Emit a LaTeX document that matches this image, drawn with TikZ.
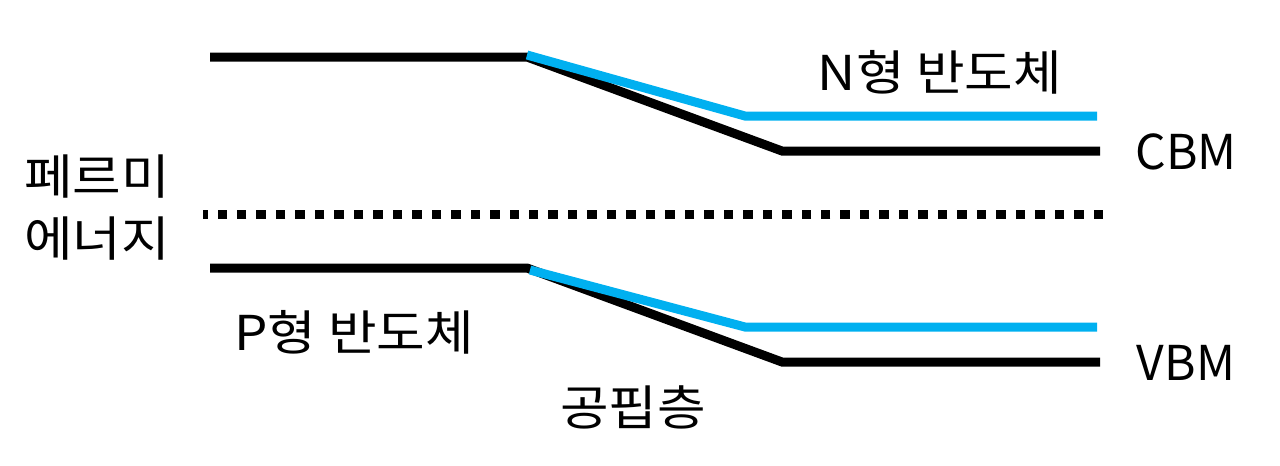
\documentclass[tikz,border=0pt]{standalone}
\usepackage{fontspec}
\setmainfont{Noto Sans CJK KR}
\newfontfamily\korfont[FakeStretch=1.1]{Noto Sans CJK KR}
\definecolor{bandblue}{HTML}{00B0F0}
\begin{document}
\begin{tikzpicture}[x=0.75pt,y=-0.75pt,
  band/.style={line width=6.75pt, line join=miter, line cap=butt},
  lbl/.style={inner sep=0pt, font=\fontsize{36}{46.5}\selectfont, anchor=center},
  klbl/.style={lbl, font=\korfont\fontsize{36}{46.5}\selectfont}]
\useasboundingbox (0,0) rectangle (1280,465);
% coordinates
\coordinate (cb1) at (210,57);  \coordinate (cb2) at (527,57);
\coordinate (cb3) at (782,151); \coordinate (cb4) at (1100,151);
\coordinate (cn1) at (527,55);  \coordinate (cn2) at (745,116);
\coordinate (cn3) at (1097,116);
\coordinate (vb1) at (210,268); \coordinate (vb2) at (527,268);
\coordinate (vb3) at (782,362); \coordinate (vb4) at (1100,362);
\coordinate (vn1) at (530,270); \coordinate (vn2) at (745,327);
\coordinate (vn3) at (1097,327);
\coordinate (fR) at (1103,214.5); \coordinate (fL) at (203,214.5);
% bands
\draw[band, black] (cb1) -- (cb2) -- (cb3) -- (cb4);
\draw[band, bandblue] (cn1) -- (cn2) -- (cn3);
\draw[band, black] (vb1) -- (vb2) -- (vb3) -- (vb4);
\draw[band, bandblue] (vn1) -- (vn2) -- (vn3);
% fermi level
\draw[line width=6.75pt, dash pattern=on 7.1pt off 7.5pt] (fR) -- (fL);
% labels
\node[klbl] (nlab) at (940,72) {N형 반도체};
\node[lbl] (cbm) at (1186,151.5) {CBM};
\node[lbl] (vbm) at (1186,362.5) {VBM};
\node[klbl] (plab) at (354,332) {P형 반도체};
\node[klbl] (dep) at (633,407) {공핍층};
\node[klbl, align=center] (fermi) at (97,208) {페르미\\에너지};
\end{tikzpicture}
\end{document}
